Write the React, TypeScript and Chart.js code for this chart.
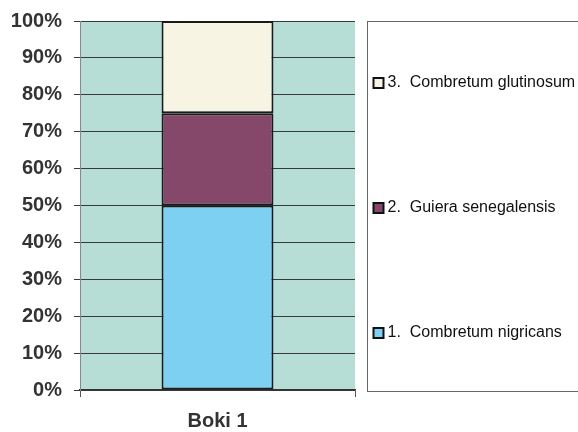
import React, { useEffect, useRef } from "react";
import { Chart, registerables } from "chart.js";

Chart.register(...registerables);

const categories = ["Boki 1"];
const seriesLabels = [
  "1.  Combretum nigricans",
  "2.  Guiera senegalensis",
  "3.  Combretum glutinosum",
];
const nigricans = [50];
const guiera = [25];
const glutinosum = [25];
const seriesColors = ["#7dd0f2", "#86486a", "#f8f4e4"];
const yTickValues = [0, 10, 20, 30, 40, 50, 60, 70, 80, 90, 100];

const FONT = "'Liberation Sans', Arial, sans-serif";

const plotBg = {
  id: "plotBg",
  beforeDraw(chart: any) {
    const { ctx, chartArea } = chart;
    ctx.save();
    ctx.fillStyle = "#b7ded6";
    ctx.fillRect(chartArea.left, chartArea.top, chartArea.right - chartArea.left, chartArea.bottom - chartArea.top);
    ctx.restore();
  },
};

const sideLegend = {
  id: "sideLegend",
  afterDraw(chart: any) {
    const { ctx, chartArea } = chart;
    const left = chartArea.right + 12.5;
    const top = chartArea.top + 0.5;
    const bottom = chartArea.bottom + 1.5;
    ctx.save();
    ctx.strokeStyle = "#666";
    ctx.lineWidth = 1;
    ctx.strokeRect(left, top, 240, bottom - top);
    const ds = chart.data.datasets;
    const n = ds.length;
    for (let i = 0; i < n; i++) {
      const d = ds[n - 1 - i];
      const y = top + 61.5 + i * 125;
      ctx.fillStyle = d.backgroundColor;
      ctx.fillRect(left + 6, y - 5, 10, 10);
      ctx.strokeStyle = "#111";
      ctx.lineWidth = 2;
      ctx.strokeRect(left + 6, y - 5, 10, 10);
      ctx.fillStyle = "#111";
      ctx.font = `16px ${FONT}`;
      ctx.textBaseline = "middle";
      ctx.textAlign = "left";
      ctx.fillText(d.label, left + 20, y);
    }
    ctx.restore();
  },
};

export default function App() {
  const ref = useRef<HTMLCanvasElement>(null);
  useEffect(() => {
    if (!ref.current) return;
    const mk = (label: string, data: number[], color: string) => ({
      label,
      data,
      backgroundColor: color,
      borderColor: "#1a1a1a",
      borderWidth: 2,
      borderSkipped: false,
      barPercentage: 0.407,
      categoryPercentage: 1,
    });
    const chart = new Chart(ref.current, {
      type: "bar",
      data: {
        labels: categories,
        datasets: [
          mk(seriesLabels[0], nigricans, seriesColors[0]),
          mk(seriesLabels[1], guiera, seriesColors[1]),
          mk(seriesLabels[2], glutinosum, seriesColors[2]),
        ],
      },
      options: {
        responsive: false,
        animation: false,
        layout: { padding: { left: 0, right: 223, top: 21, bottom: 0 } },
        plugins: { legend: { display: false }, tooltip: { enabled: false } },
        scales: {
          x: {
            stacked: true,
            grid: { drawOnChartArea: false, drawTicks: true, tickLength: 7, color: "#555", offset: true },
            border: { display: true, color: "#333", width: 1.5 },
            ticks: { font: { family: FONT, size: 20, weight: "bold" }, color: "#333", padding: 12 },
            afterFit: (s: any) => { s.height = 42; s.paddingLeft = 0; s.paddingRight = 0; },
          },
          y: {
            stacked: true,
            min: 0,
            max: 100,
            afterBuildTicks: (s: any) => { s.ticks = yTickValues.map((v) => ({ value: v })); },
            grid: { color: "#3a3a3a", lineWidth: 1, tickLength: 6 },
            border: { display: true, color: "#888", width: 1 },
            ticks: {
              font: { family: FONT, size: 20, weight: "bold" },
              color: "#333",
              padding: 12,
              callback: (v: any) => `${v}%`,
            },
            afterFit: (s: any) => { s.width = 80; s.paddingTop = 0; s.paddingBottom = 0; },
          },
        },
      },
      plugins: [plotBg, sideLegend],
    });
    return () => chart.destroy();
  }, []);
  return (
    <div style={{ position: "absolute", left: 0, top: 0, width: 578, height: 432, background: "#fff" }}>
      <canvas ref={ref} width={578} height={432} />
    </div>
  );
}
